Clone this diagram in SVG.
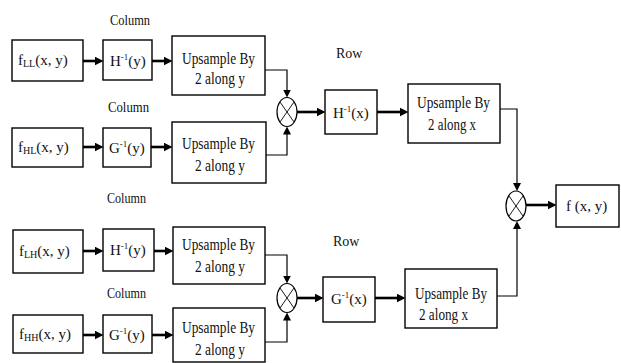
<svg xmlns="http://www.w3.org/2000/svg" width="621" height="363" viewBox="0 0 621 363">
<style>
  .box rect { fill: #fff; stroke: #000; stroke-width: 1.4; }
  text { font-family: "Liberation Serif", "Times New Roman", serif; font-size: 15px; fill: #111; }
  .up { font-size: 16px; }
  .lbl { font-size: 14px; }
  .sub { font-size: 10px; }
  .sup { font-size: 9px; }
  .thick { stroke: #000; stroke-width: 2.6; fill: none; marker-end: url(#ah); }
  .thin { stroke: #000; stroke-width: 1.2; fill: none; marker-end: url(#ahs); }
  .mul ellipse { fill: #fff; stroke: #000; stroke-width: 1.2; }
  .mul line { stroke: #000; stroke-width: 0.9; }
</style>
<defs>
  <marker id="ah" markerUnits="userSpaceOnUse" markerWidth="9" markerHeight="9" viewBox="0 0 10 10" refX="5" refY="5" orient="auto">
    <path d="M0,0 L10,5 L0,10 z" fill="#000"/>
  </marker>
  <marker id="ahs" markerUnits="userSpaceOnUse" markerWidth="8" markerHeight="8" viewBox="0 0 10 10" refX="5" refY="5" orient="auto">
    <path d="M0,0 L10,5 L0,10 z" fill="#000"/>
  </marker>
</defs>

<!-- labels -->
<text class="lbl" x="110" y="25" textLength="40" lengthAdjust="spacingAndGlyphs">Column</text>
<text class="lbl" x="108" y="112" textLength="41" lengthAdjust="spacingAndGlyphs">Column</text>
<text class="lbl" x="107" y="203" textLength="39" lengthAdjust="spacingAndGlyphs">Column</text>
<text class="lbl" x="107" y="298" textLength="39" lengthAdjust="spacingAndGlyphs">Column</text>
<text class="lbl" x="336" y="58">Row</text>
<text class="lbl" x="333" y="246">Row</text>

<!-- Row 1 -->
<g id="fLL" class="box"><rect x="12" y="40" width="71" height="41"/>
  <text x="18" y="65">f<tspan class="sub" dy="2">LL</tspan><tspan dy="-2">(x, y)</tspan></text></g>
<g id="Hy1" class="box"><rect x="103" y="40" width="49" height="40"/>
  <text x="110" y="66">H<tspan class="sup" dy="-6">-1</tspan><tspan dy="6">(y)</tspan></text></g>
<g id="up1" class="box"><rect x="172" y="36" width="93" height="59"/>
  <text class="up" x="182" y="64" textLength="73" lengthAdjust="spacingAndGlyphs">Upsample By</text>
  <text class="up" x="195" y="84" textLength="50" lengthAdjust="spacingAndGlyphs">2 along y</text></g>

<!-- Row 2 -->
<g id="fHL" class="box"><rect x="12" y="128" width="71" height="39"/>
  <text x="18" y="152">f<tspan class="sub" dy="2">HL</tspan><tspan dy="-2">(x, y)</tspan></text></g>
<g id="Gy1" class="box"><rect x="103" y="128" width="48" height="39"/>
  <text x="109" y="153">G<tspan class="sup" dy="-6">-1</tspan><tspan dy="6">(y)</tspan></text></g>
<g id="up2" class="box"><rect x="172" y="122" width="94" height="61"/>
  <text class="up" x="182" y="149" textLength="73" lengthAdjust="spacingAndGlyphs">Upsample By</text>
  <text class="up" x="195" y="171" textLength="50" lengthAdjust="spacingAndGlyphs">2 along y</text></g>

<!-- Row 3 -->
<g id="fLH" class="box"><rect x="13" y="230" width="70" height="43"/>
  <text x="19" y="256">f<tspan class="sub" dy="2">LH</tspan><tspan dy="-2">(x, y)</tspan></text></g>
<g id="Hy2" class="box"><rect x="103" y="229" width="51" height="42"/>
  <text x="110" y="255">H<tspan class="sup" dy="-6">-1</tspan><tspan dy="6">(y)</tspan></text></g>
<g id="up3" class="box"><rect x="173" y="227" width="92" height="57"/>
  <text class="up" x="182" y="250" textLength="73" lengthAdjust="spacingAndGlyphs">Upsample By</text>
  <text class="up" x="195" y="272" textLength="50" lengthAdjust="spacingAndGlyphs">2 along y</text></g>

<!-- Row 4 -->
<g id="fHH" class="box"><rect x="13" y="315" width="70" height="38"/>
  <text x="19" y="339">f<tspan class="sub" dy="2">HH</tspan><tspan dy="-2">(x, y)</tspan></text></g>
<g id="Gy2" class="box"><rect x="103" y="315" width="49" height="38"/>
  <text x="109" y="340">G<tspan class="sup" dy="-6">-1</tspan><tspan dy="6">(y)</tspan></text></g>
<g id="up4" class="box"><rect x="173" y="308" width="92" height="54"/>
  <text class="up" x="182" y="333" textLength="73" lengthAdjust="spacingAndGlyphs">Upsample By</text>
  <text class="up" x="195" y="355" textLength="50" lengthAdjust="spacingAndGlyphs">2 along y</text></g>

<!-- Multipliers -->
<g id="mul1" class="mul"><ellipse cx="287" cy="112" rx="10" ry="14.5"/>
  <line x1="280" y1="102" x2="294" y2="122"/><line x1="294" y1="102" x2="280" y2="122"/></g>
<g id="mul2" class="mul"><ellipse cx="287" cy="298" rx="10" ry="14.5"/>
  <line x1="280" y1="288" x2="294" y2="308"/><line x1="294" y1="288" x2="280" y2="308"/></g>
<g id="mul3" class="mul"><ellipse cx="516" cy="206" rx="10" ry="15"/>
  <line x1="509" y1="196" x2="523" y2="216"/><line x1="523" y1="196" x2="509" y2="216"/></g>

<!-- Row stage -->
<g id="Hx" class="box"><rect x="325" y="90" width="52" height="44"/>
  <text x="333" y="118">H<tspan class="sup" dy="-6">-1</tspan><tspan dy="6">(x)</tspan></text></g>
<g id="upx1" class="box"><rect x="408" y="84" width="92" height="59"/>
  <text class="up" x="417" y="108" textLength="73" lengthAdjust="spacingAndGlyphs">Upsample By</text>
  <text class="up" x="428" y="130" textLength="48" lengthAdjust="spacingAndGlyphs">2 along x</text></g>
<g id="Gx" class="box"><rect x="323" y="277" width="52" height="45"/>
  <text x="331" y="304">G<tspan class="sup" dy="-6">-1</tspan><tspan dy="6">(x)</tspan></text></g>
<g id="upx2" class="box"><rect x="405" y="269" width="92" height="59"/>
  <text class="up" x="415" y="299" textLength="72" lengthAdjust="spacingAndGlyphs">Upsample By</text>
  <text class="up" x="419" y="320" textLength="49" lengthAdjust="spacingAndGlyphs">2 along x</text></g>
<g id="fxy" class="box"><rect x="556" y="185" width="63" height="42"/>
  <text x="566" y="211">f (x, y)</text></g>

<!-- Connectors -->
<g id="connectors">
  <line class="thick" x1="83" y1="61" x2="99" y2="61"/>
  <line class="thick" x1="152" y1="61" x2="168" y2="61"/>
  <line class="thick" x1="83" y1="147" x2="99" y2="147"/>
  <line class="thick" x1="151" y1="147" x2="168" y2="147"/>
  <line class="thick" x1="83" y1="251" x2="99" y2="251"/>
  <line class="thick" x1="154" y1="251" x2="169" y2="251"/>
  <line class="thick" x1="83" y1="335" x2="99" y2="335"/>
  <line class="thick" x1="152" y1="335" x2="169" y2="335"/>

  <polyline class="thin" points="265,70 287,70 287,93.5"/>
  <polyline class="thin" points="266,155 287,155 287,130.5"/>
  <polyline class="thin" points="265,255 287,255 287,279.5"/>
  <polyline class="thin" points="265,342 287,342 287,316.5"/>

  <line class="thick" x1="297" y1="112" x2="321" y2="112"/>
  <line class="thick" x1="377" y1="112" x2="404" y2="112"/>
  <line class="thick" x1="297" y1="298" x2="319" y2="298"/>
  <line class="thick" x1="375" y1="298" x2="401" y2="298"/>

  <polyline class="thin" points="500,109 517,109 517,187"/>
  <polyline class="thin" points="497,296 517,296 517,225"/>
  <line class="thick" x1="526" y1="205" x2="552" y2="205"/>
</g>
</svg>
